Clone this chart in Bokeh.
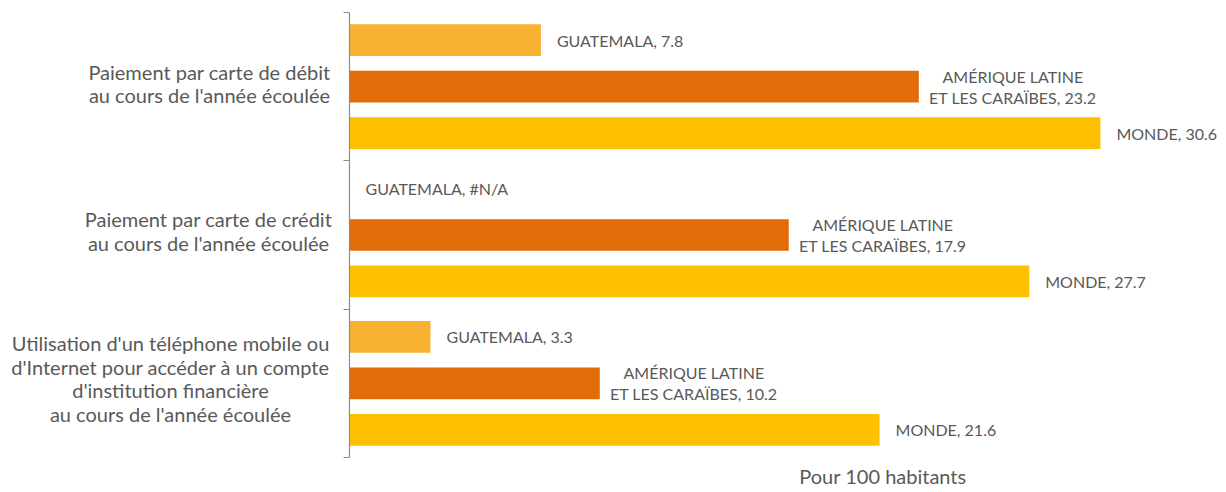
from bokeh.plotting import figure
from bokeh.models import ColumnDataSource, FixedTicker, Range1d
from bokeh.embed import file_html
from bokeh.resources import INLINE
from bokeh.core.properties import value

# ---- data ----
categories = [
    "Paiement par carte de débit\nau cours de l'année écoulée",
    "Paiement par carte de crédit\nau cours de l'année écoulée",
    "Utilisation d'un téléphone mobile ou\nd'Internet pour accéder à un compte\nd'institution financière\nau cours de l'année écoulée",
]
series_names = ["GUATEMALA", "AMÉRIQUE LATINE\nET LES CARAÏBES", "MONDE"]
guatemala = [7.8, None, 3.3]
latam = [23.2, 17.9, 10.2]
monde = [30.6, 27.7, 21.6]
unit_label = "Pour 100  habitants"

# ---- style / layout ----
colors = ["#F8B133", "#E36C0A", "#FFC000"]
text_color = "#595959"
axis_color = "#8C8C8C"
FONT = "Lato"
FS = "16px"
FS_CAT = "20px"
W, H = 1222, 492
FRAME_LEFT = 8                # px reserved for the y-axis side panel
ZERO_PX = 349                 # page x of value 0
TOP_PX, BOTTOM_PX = 12, 457   # page y of the axis ends
px_x = 24.54
n = len(categories)
px_y = (BOTTOM_PX - TOP_PX) / n

x_start = -(ZERO_PX - FRAME_LEFT) / px_x
x_end = x_start + (W - FRAME_LEFT) / px_x
y_end = n + TOP_PX / px_y
y_start = -(H - BOTTOM_PX) / px_y

p = figure(width=W, height=H, output_backend="svg", toolbar_location=None,
           x_range=Range1d(x_start, x_end), y_range=Range1d(y_start, y_end),
           x_axis_location=None,
           min_border_left=FRAME_LEFT, min_border_right=0, min_border_top=0, min_border_bottom=0)
p.outline_line_color = None
p.xgrid.visible = False
p.ygrid.visible = False
p.background_fill_color = "white"
p.border_fill_color = "white"

ax = p.yaxis[0]
ax.fixed_location = 0
ax.bounds = (0, n)
ax.ticker = FixedTicker(ticks=list(range(n + 1)))
ax.major_label_overrides = {i: "" for i in range(n + 1)}
ax.major_label_standoff = 0
ax.minor_tick_line_color = None
ax.major_tick_in = 0
ax.major_tick_out = 6
ax.axis_line_color = axis_color
ax.major_tick_line_color = axis_color
ax.axis_line_width = 1.2
ax.major_tick_line_width = 1.2

offsets = [0.313, 0.0, -0.313]
bar_h = 0.214
all_series = [guatemala, latam, monde]

for k, (vals, name, col) in enumerate(zip(all_series, series_names, colors)):
    ys = [n - 0.5 - i + offsets[k] for i in range(n)]
    rights = [float("nan") if v is None else v for v in vals]
    src = ColumnDataSource(dict(
        y=ys, right=rights,
        lx=[0 if v is None else v for v in vals],
        txt=[f"{name}, {'#N/A' if v is None else v}" for v in vals],
    ))
    p.hbar(y="y", left=0, right="right", height=bar_h, source=src,
           fill_color=col, line_color=None)
    if k == 1:
        p.text(x="lx", y="y", text="txt", source=src, x_offset=94,
               text_align="center", text_baseline="middle",
               text_font=value(FONT), text_font_size=FS, text_color=text_color,
               text_line_height=1.11)
    else:
        p.text(x="lx", y="y", text="txt", source=src, x_offset=16,
               text_align="left", text_baseline="middle",
               text_font=value(FONT), text_font_size=FS, text_color=text_color)

# category labels: centred lines; offsets in px from (0, group centre)
cat_dx = [-140, -141, -179]
cat_dy = [-3, -4, -5]
cat_src = ColumnDataSource(dict(
    x=[0] * n, y=[n - 0.5 - i for i in range(n)], txt=categories, dx=cat_dx, dy=cat_dy))
p.text(x="x", y="y", text="txt", x_offset="dx", y_offset="dy", source=cat_src,
       text_align="center", text_baseline="middle",
       text_font=value(FONT), text_font_size=FS_CAT, text_color=text_color,
       text_line_height=0.98)

p.text(x=[0], y=[0], text=[unit_label], x_offset=536, y_offset=18,
       text_align="center", text_baseline="middle",
       text_font=value(FONT), text_font_size=FS_CAT, text_color=text_color)

open("out.html", "w").write(file_html(p, INLINE))
